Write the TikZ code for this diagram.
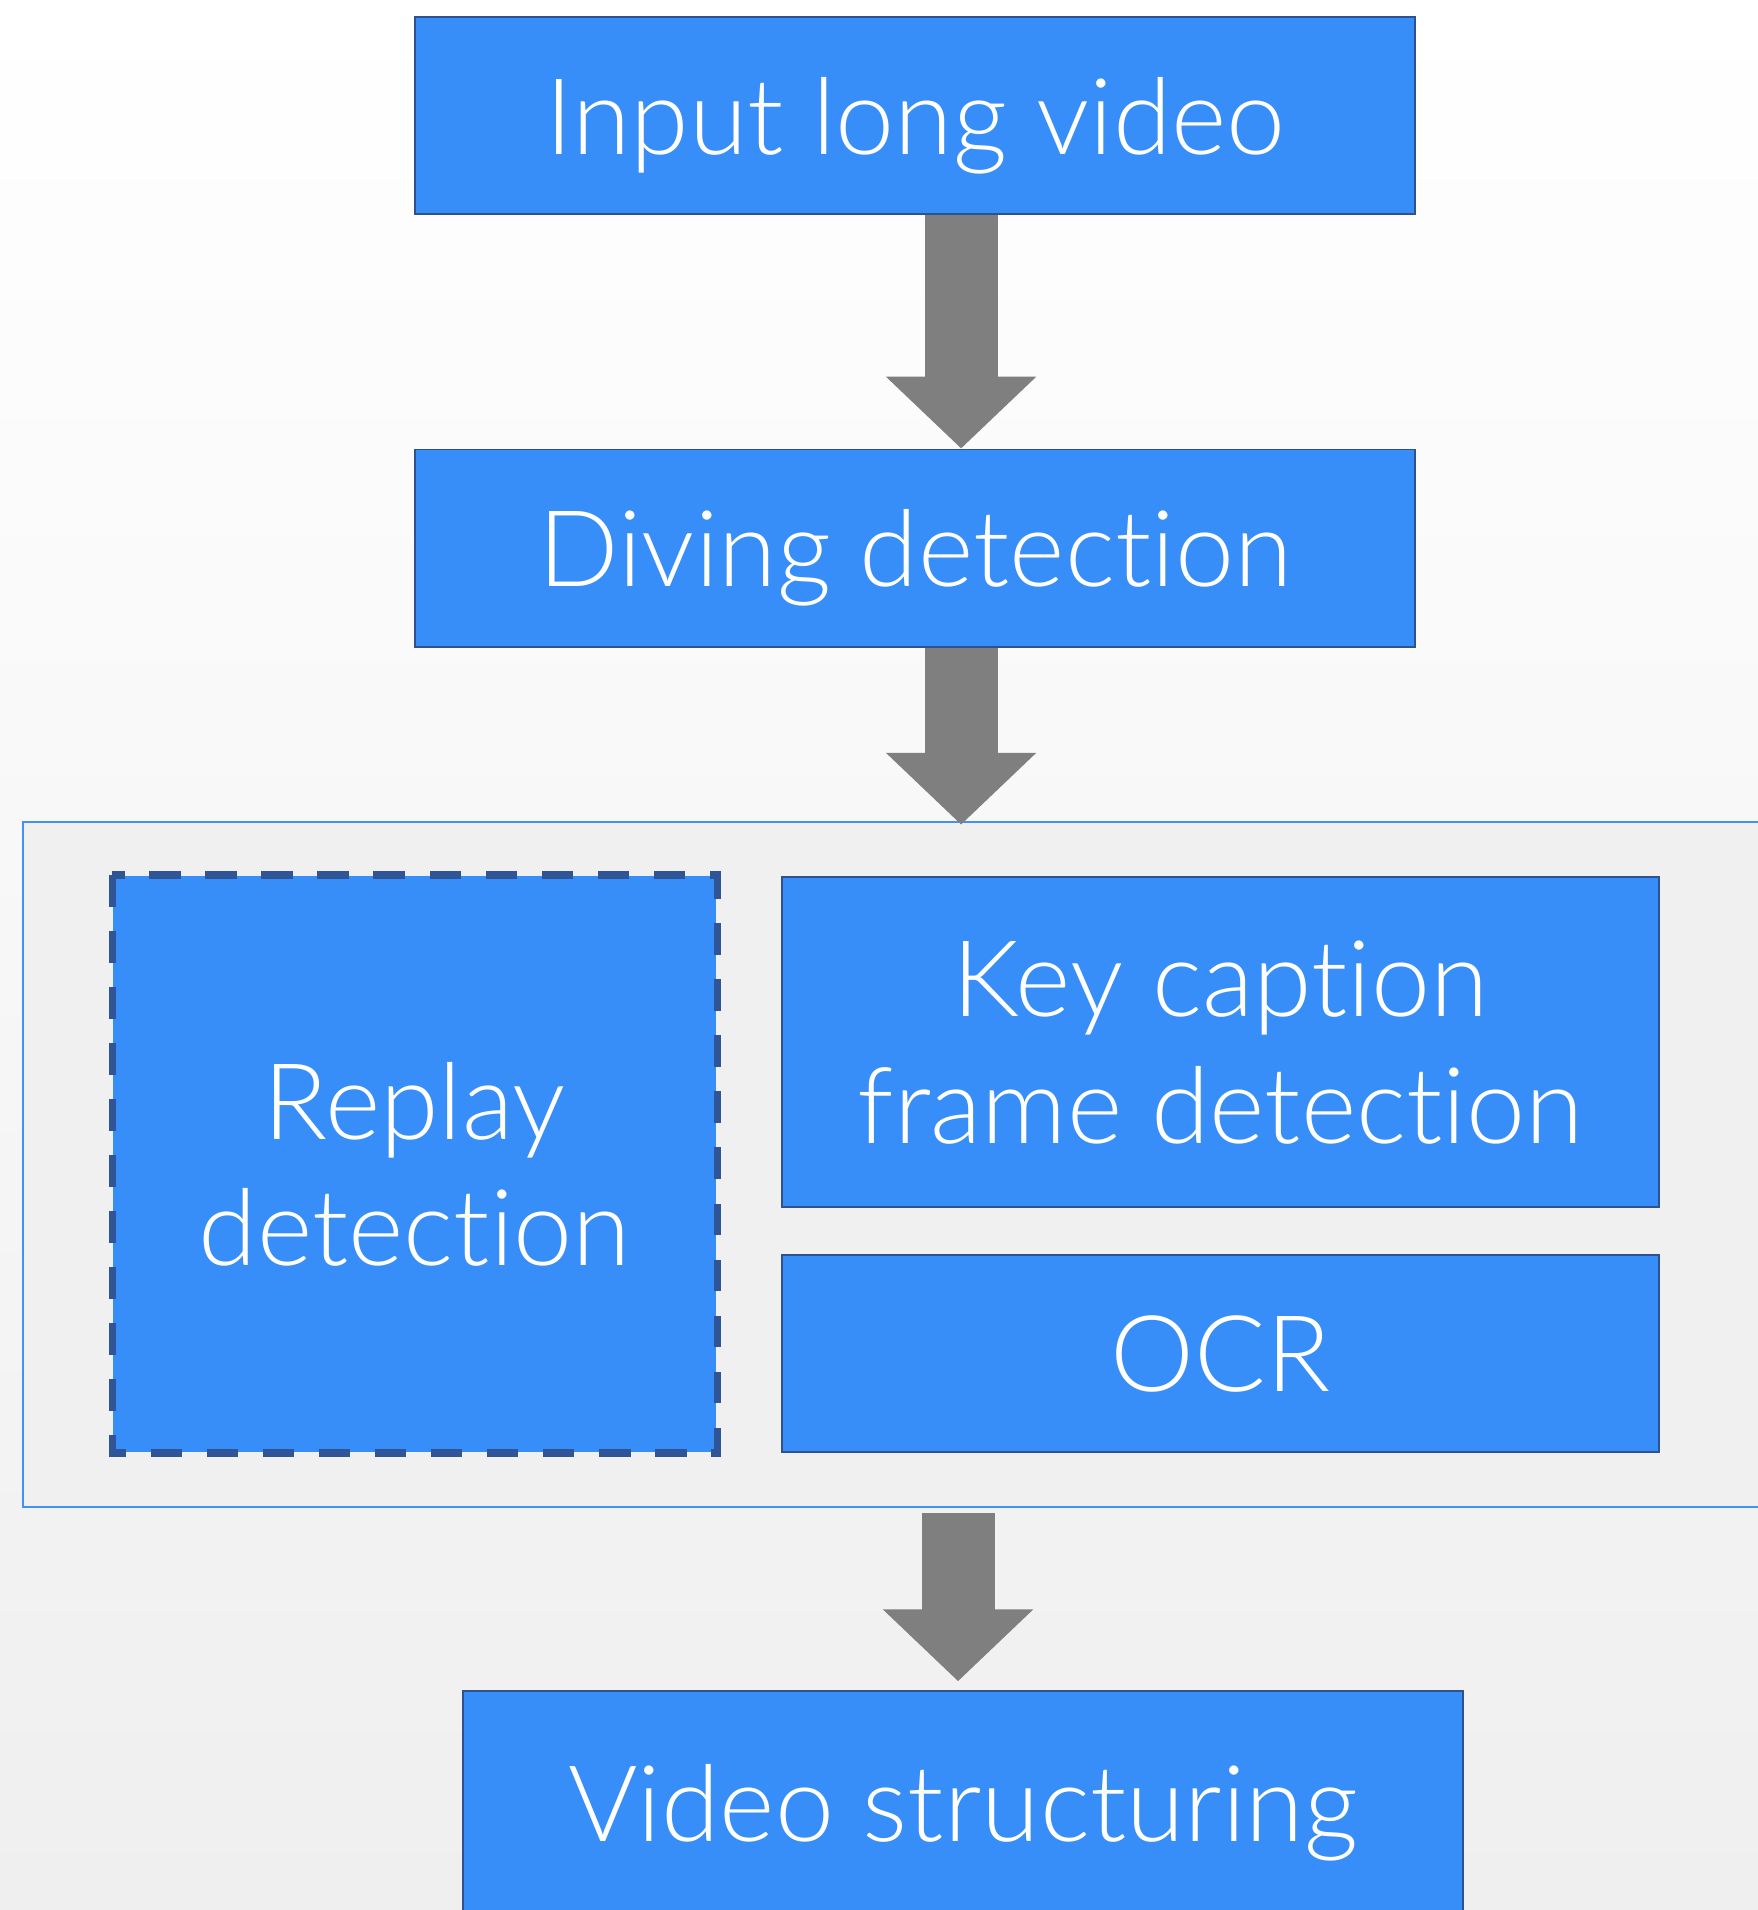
\documentclass[tikz,border=0pt]{standalone}
\usepackage{fontspec}
\setmainfont{Lato Light}[Ligatures={NoCommon,NoRare}]
\usetikzlibrary{arrows.meta,calc}
\definecolor{boxblue}{RGB}{55,142,248}
\definecolor{edgeblue}{RGB}{47,82,143}
\definecolor{dashblue}{RGB}{47,85,151}
\definecolor{framefill}{RGB}{240,240,240}
\definecolor{framedge}{RGB}{66,146,246}
\definecolor{arrowgray}{RGB}{127,127,127}
\definecolor{bgbottom}{RGB}{239,239,239}
\tikzset{
  stagebox/.style={draw=edgeblue, line width=0.8pt, fill=boxblue, text=white,
    font=\fontsize{43.5}{52}\selectfont, align=center, inner sep=0pt,
    text depth=0pt},
  flowarrow/.style={draw=arrowgray, line width=30pt,
    -{Triangle[width=60pt,length=29.5pt]}},
}
\begin{document}
\begin{tikzpicture}[x=0.5pt,y=-0.5pt]
\useasboundingbox (0,0) rectangle (1443,1568);
\clip (0,0) rectangle (1443,1568);
% background
\shade[top color=white, bottom color=bgbottom] (0,0) rectangle (1443,1568);

% stages
\node[stagebox, minimum width=410.5pt, minimum height=81pt] (in) at (751.5,95) {Input long video};
\node[stagebox, minimum width=410.5pt, minimum height=81pt] (div) at (751.5,450) {Diving detection};

% grouping frame
\node[draw=framedge, fill=framefill, line width=1pt, minimum width=720.5pt, minimum height=281pt, inner sep=0pt] (stage) at (739.5,956) {};

\node[stagebox, draw=none, minimum width=247.5pt, minimum height=236.5pt] (replay) at (340.5,955.5) {Replay\\detection};
\draw[dashblue, line width=3pt, dash pattern=on 13pt off 10pt] (replay.north west) rectangle (replay.south east);
\node[stagebox, minimum width=360pt, minimum height=135.5pt] (key) at (1002,855.5) {Key caption\\frame detection};
\node[stagebox, minimum width=360pt, minimum height=81pt] (ocr) at (1002,1111) {OCR};

\node[stagebox, minimum width=410.5pt, minimum height=92pt] (vs) at (790.5,1480) {Video structuring};

% connectors
\coordinate (ax) at (789,0);
\coordinate (bx) at (786.5,0);
\draw[flowarrow] (in.south -| ax) -- (div.north -| ax);
\draw[flowarrow] (div.south -| ax) -- ($(stage.north -| ax)+(0,3)$);
\draw[flowarrow] ($(stage.south -| bx)+(0,4)$) -- ($(vs.north -| bx)+(0,-7)$);
\end{tikzpicture}
\end{document}
